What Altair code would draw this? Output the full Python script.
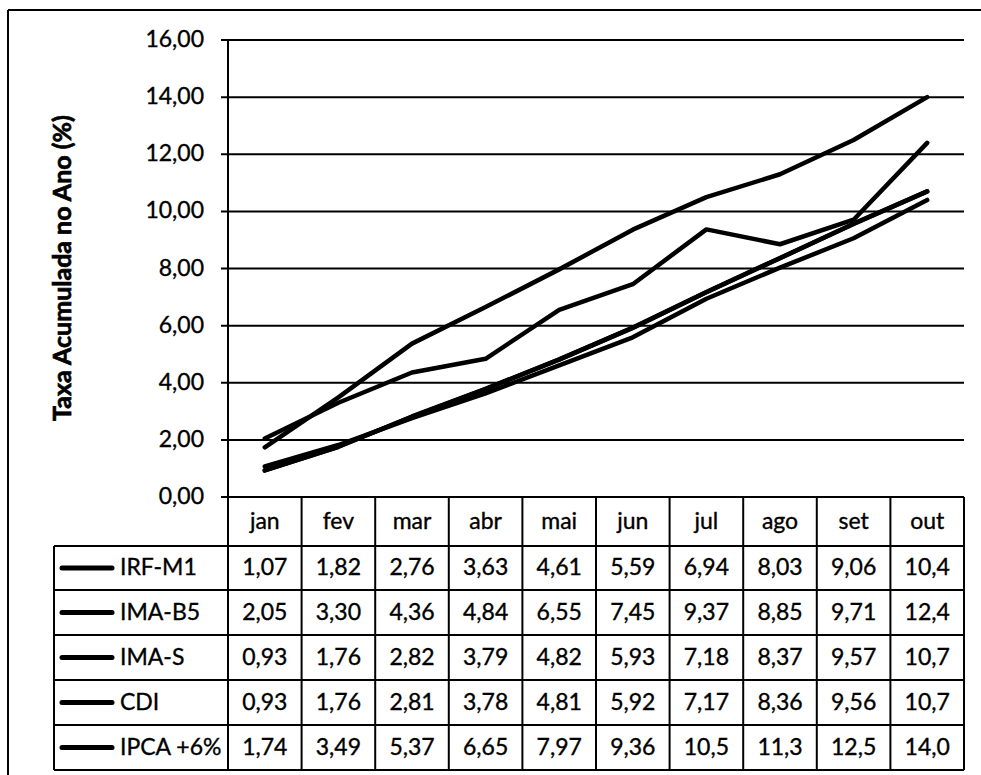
import altair as alt
import pandas as pd

# ---------------- data ----------------
months = ["jan", "fev", "mar", "abr", "mai", "jun", "jul", "ago", "set", "out"]
series_names = ["IRF-M1", "IMA-B5", "IMA-S", "CDI", "IPCA +6%"]
irf_m1 = [1.07, 1.82, 2.76, 3.63, 4.61, 5.59, 6.94, 8.03, 9.06, 10.4]
ima_b5 = [2.05, 3.30, 4.36, 4.84, 6.55, 7.45, 9.37, 8.85, 9.71, 12.4]
ima_s = [0.93, 1.76, 2.82, 3.79, 4.82, 5.93, 7.18, 8.37, 9.57, 10.7]
cdi = [0.93, 1.76, 2.81, 3.78, 4.81, 5.92, 7.17, 8.36, 9.56, 10.7]
ipca6 = [1.74, 3.49, 5.37, 6.65, 7.97, 9.36, 10.5, 11.3, 12.5, 14.0]
series_values = [irf_m1, ima_b5, ima_s, cdi, ipca6]
y_ticks = [0, 2, 4, 6, 8, 10, 12, 14, 16]
y_title = "Taxa Acumulada no Ano (%)"

# ---------------- layout helpers ----------------
W, H = 981, 775
COL = 73.6        # pixels per month column
PX_Y = 28.56      # pixels per value unit
AXIS_X = 228      # pixel x of the value axis (left edge of 'jan' column)
ZERO_Y = 497      # pixel y of value 0 (top of table)
FONT = "Lato"
FS = 23
TXT = dict(font=FONT, fontSize=FS, color="black", stroke="black", strokeWidth=0.35)


def ux(px):
    return -0.5 + (px - AXIS_X) / COL


def uy(py):
    return (ZERO_Y - py) / PX_Y


n = len(months)
row_px = [497, 546, 590, 635, 680, 725, 770]   # header + 5 rows
row_u = [uy(p) for p in row_px]
mid = [(row_u[i] + row_u[i + 1]) / 2 for i in range(len(row_u) - 1)]

xs = alt.Scale(domain=[ux(0), ux(W)], nice=False, zero=False)
ys = alt.Scale(domain=[uy(H), uy(0)], nice=False, zero=False)


def X(f):
    return alt.X(f, type="quantitative", scale=xs, axis=None)


def Y(f):
    return alt.Y(f, type="quantitative", scale=ys, axis=None)


def fmt(v):
    s = f"{v:.1f}" if v >= 10 else f"{v:.2f}"
    return s.replace(".", ",")


# ---------------- tables ----------------
lines_df = pd.DataFrame(
    [{"m": i, "v": vals[i], "s": name}
     for name, vals in zip(series_names, series_values) for i in range(n)]
)

grid_df = pd.DataFrame({"y": y_ticks, "x": ux(221), "x2": n - 0.5, "xl": ux(204),
                        "lab": [f"{t:.2f}".replace(".", ",") for t in y_ticks]})

hrules = pd.DataFrame({"y": row_u[1:], "x": ux(54), "x2": n - 0.5})
vr = [{"x": i - 0.5, "y": row_u[0], "y2": row_u[-1]} for i in range(n + 1)]
vr.append({"x": ux(54), "y": row_u[1], "y2": row_u[-1]})
vrules = pd.DataFrame(vr)

frame = pd.DataFrame([
    {"x": ux(8), "x2": ux(W), "y": uy(10), "y2": uy(10)},
    {"x": ux(8), "x2": ux(8), "y": uy(10), "y2": uy(H)},
])

head_df = pd.DataFrame({"x": list(range(n)), "y": mid[0], "t": months})
cells_df = pd.DataFrame(
    [{"x": i, "y": mid[r + 1], "t": fmt(vals[i])}
     for r, vals in enumerate(series_values) for i in range(n)]
)
leg_df = pd.DataFrame({"x": ux(62), "x2": ux(112), "y": mid[1:],
                       "lx": ux(120), "t": series_names})
title_df = pd.DataFrame({"x": [ux(63)], "y": [uy(268)], "t": [y_title]})
axis_df = pd.DataFrame({"x": [-0.5], "y": [0], "y2": [16]})

# ---------------- layers ----------------
frame_l = alt.Chart(frame).mark_rule(color="black", strokeWidth=2).encode(
    x=X("x"), x2="x2", y=Y("y"), y2="y2")

grid_l = alt.Chart(grid_df).mark_rule(color="black", strokeWidth=2).encode(
    x=X("x"), x2="x2", y=Y("y"))

axis_l = alt.Chart(axis_df).mark_rule(color="black", strokeWidth=2).encode(
    x=X("x"), y=Y("y"), y2="y2")

ticklab_l = alt.Chart(grid_df).mark_text(
    align="right", baseline="middle", **TXT
).encode(x=X("xl"), y=Y("y"), text="lab:N")

title_l = alt.Chart(title_df).mark_text(
    angle=270, align="center", baseline="middle", font=FONT, fontSize=25,
    fontWeight="bold", color="black", stroke="black", strokeWidth=0.7
).encode(x=X("x"), y=Y("y"), text="t:N")

lines_l = alt.Chart(lines_df).mark_line(
    color="black", strokeWidth=4.5, strokeCap="round", strokeJoin="round"
).encode(x=X("m"), y=Y("v"), detail="s:N", order="m:Q")

hr_l = alt.Chart(hrules).mark_rule(color="black", strokeWidth=2).encode(
    x=X("x"), x2="x2", y=Y("y"))
vr_l = alt.Chart(vrules).mark_rule(color="black", strokeWidth=2).encode(
    x=X("x"), y=Y("y"), y2="y2")

head_l = alt.Chart(head_df).mark_text(
    align="center", baseline="middle", **TXT
).encode(x=X("x"), y=Y("y"), text="t:N")

cells_l = alt.Chart(cells_df).mark_text(
    align="center", baseline="middle", **TXT
).encode(x=X("x"), y=Y("y"), text="t:N")

leg_line_l = alt.Chart(leg_df).mark_rule(color="black", strokeWidth=5, strokeCap="round").encode(
    x=X("x"), x2="x2", y=Y("y"))
leg_text_l = alt.Chart(leg_df).mark_text(
    align="left", baseline="middle", **TXT
).encode(x=X("lx"), y=Y("y"), text="t:N")

chart = alt.layer(
    frame_l, grid_l, axis_l, ticklab_l, title_l, hr_l, vr_l,
    head_l, cells_l, leg_line_l, leg_text_l, lines_l
).properties(
    width=W, height=H, padding=0, autosize=alt.AutoSizeParams(type="none"),
    background="white"
).configure_view(stroke=None)

chart.save("out.html", embed_options={"renderer": "svg", "actions": False})
